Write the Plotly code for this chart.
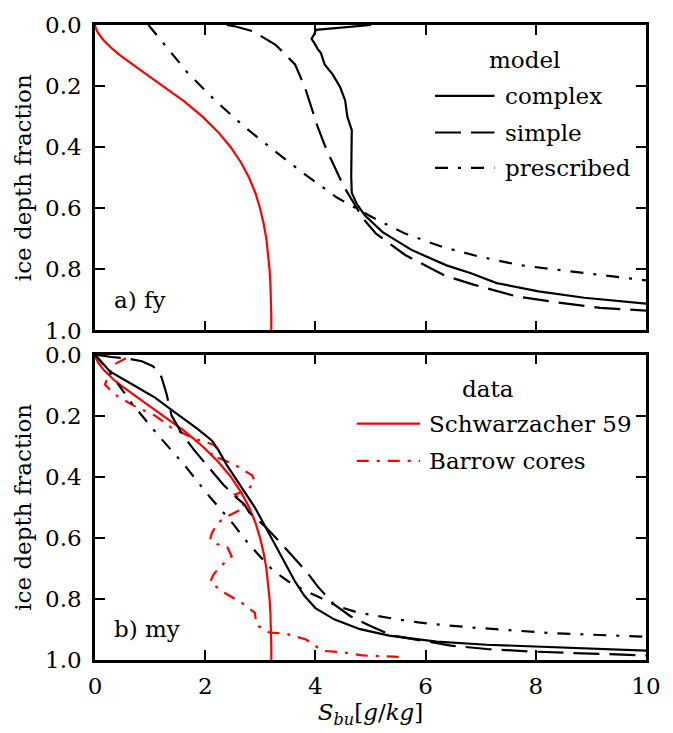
import plotly.graph_objects as go

# ---------------------------------------------------------------------------
# Bulk salinity profiles S_bu [g/kg] against fractional ice depth
# ---------------------------------------------------------------------------

# Schwarzacher (1959) reference profile (drawn in both panels)
schw_depth = [0.0, 0.01, 0.025, 0.05, 0.08, 0.10, 0.15, 0.20, 0.25, 0.30, 0.35,
              0.40, 0.45, 0.50, 0.55, 0.60, 0.65, 0.70, 0.75, 0.80, 0.85, 0.90,
              0.95, 1.0]
schw_sbu = [0.0, 0.013, 0.052, 0.155, 0.327, 0.463, 0.845, 1.244, 1.619, 1.951,
            2.232, 2.464, 2.649, 2.797, 2.911, 2.995, 3.060, 3.110, 3.143, 3.168,
            3.184, 3.194, 3.199, 3.2]

# a) first-year ice: model runs
fy_complex_depth = [0.0, 0.016, 0.030, 0.045, 0.062, 0.078, 0.092, 0.110, 0.130,
                    0.161, 0.204, 0.247, 0.30, 0.344, 0.42, 0.495, 0.549, 0.586,
                    0.624, 0.678, 0.737, 0.787, 0.812, 0.845, 0.872, 0.893,
                    0.912]
fy_complex_sbu = [5.01, 4.01, 3.98, 3.93, 3.99, 4.04, 4.10, 4.14, 4.17, 4.31,
                  4.45, 4.54, 4.58, 4.66, 4.65, 4.65, 4.66, 4.75, 4.90, 5.22,
                  5.75, 6.38, 6.81, 7.29, 8.05, 8.88, 10.0]

fy_simple_depth = [0.0, 0.005, 0.02, 0.064, 0.09, 0.129, 0.204, 0.269, 0.333,
                   0.403, 0.463, 0.527, 0.581, 0.635, 0.683, 0.753, 0.82, 0.85,
                   0.888, 0.909, 0.926, 0.935]
fy_simple_sbu = [2.39, 2.55, 2.86, 3.27, 3.42, 3.63, 3.81, 3.92, 4.04, 4.19,
                 4.34, 4.51, 4.69, 4.87, 5.10, 5.63, 6.34, 6.87, 7.64, 8.41,
                 9.17, 10.0]

fy_prescribed_depth = [0.0, 0.06, 0.156, 0.247, 0.333, 0.414, 0.489, 0.565,
                       0.60, 0.63, 0.683, 0.727, 0.759, 0.786, 0.802, 0.818,
                       0.832, 0.836]
fy_prescribed_sbu = [0.97, 1.24, 1.68, 2.18, 2.71, 3.27, 3.81, 4.39, 4.75, 5.04,
                     5.63, 6.31, 6.99, 7.70, 8.41, 9.12, 9.82, 10.0]

# b) multi-year ice: model runs
my_complex_depth = [0.0, 0.055, 0.098, 0.141, 0.189, 0.243, 0.281, 0.313, 0.361,
                    0.41, 0.453, 0.50, 0.55, 0.60, 0.668, 0.743, 0.790, 0.830,
                    0.867, 0.899, 0.92, 0.940, 0.950, 0.958, 0.969]
my_complex_sbu = [0.0, 0.27, 0.68, 1.09, 1.45, 1.86, 2.12, 2.24, 2.39, 2.57,
                  2.74, 2.90, 3.05, 3.20, 3.39, 3.63, 3.80, 4.00, 4.34, 4.81,
                  5.34, 6.20, 7.11, 8.29, 10.0]

my_simple_depth = [0.0, 0.008, 0.012, 0.022, 0.038, 0.055, 0.076, 0.13, 0.20,
                   0.254, 0.313, 0.372, 0.426, 0.469, 0.49, 0.517, 0.56, 0.609,
                   0.662, 0.711, 0.759, 0.818, 0.856, 0.888, 0.920, 0.953,
                   0.964, 0.972, 0.977, 0.982, 0.985]
my_simple_sbu = [0.0, 0.30, 0.56, 0.85, 1.05, 1.15, 1.21, 1.30, 1.39, 1.56,
                 1.80, 2.07, 2.33, 2.57, 2.71, 2.80, 3.07, 3.33, 3.60, 3.84,
                 4.04, 4.34, 4.63, 4.99, 5.40, 6.46, 7.11, 7.88, 8.64, 9.41,
                 10.0]

my_prescribed_depth = [0.0, 0.06, 0.162, 0.265, 0.361, 0.463, 0.555, 0.603,
                       0.652, 0.705, 0.743, 0.77, 0.797, 0.824, 0.845, 0.856,
                       0.867, 0.877, 0.883, 0.894, 0.904, 0.912, 0.917, 0.923,
                       0.924]
my_prescribed_sbu = [0.0, 0.27, 0.68, 1.15, 1.62, 2.07, 2.51, 2.71, 2.95, 3.22,
                     3.51, 3.78, 4.10, 4.40, 4.78, 5.10, 5.49, 5.87, 6.17, 6.87,
                     7.58, 8.29, 9.0, 9.73, 10.0]

# b) multi-year ice: Barrow core observations
barrow_depth = [0.012, 0.035, 0.098, 0.13, 0.168, 0.20, 0.24, 0.275, 0.295,
                0.31, 0.328, 0.345, 0.358, 0.377, 0.395, 0.415, 0.442, 0.458,
                0.480, 0.501, 0.525, 0.552, 0.585, 0.605, 0.62, 0.63, 0.66,
                0.695, 0.720, 0.745, 0.78, 0.815, 0.845, 0.870, 0.885, 0.91,
                0.913, 0.933, 0.97, 0.975, 0.985, 0.99]
barrow_sbu = [0.56, 0.32, 0.18, 0.35, 0.71, 1.09, 1.39, 1.80, 2.15, 2.24, 2.09,
              2.33, 2.51, 2.68, 2.85, 2.90, 2.78, 2.54, 2.66, 2.72, 2.45, 2.22,
              2.12, 2.09, 2.21, 2.40, 2.48, 2.27, 2.15, 2.09, 2.35, 2.68, 2.90,
              2.92, 2.93, 3.16, 3.45, 3.83, 4.13, 4.50, 4.85, 5.58]

x_ticks = [0, 2, 4, 6, 8, 10]
x_ticktext = ["0", "2", "4", "6", "8", "10"]
y_ticks = [0.0, 0.2, 0.4, 0.6, 0.8, 1.0]
y_ticktext = ["0.0", "0.2", "0.4", "0.6", "0.8", "1.0"]

model_labels = ["complex", "simple", "prescribed"]
data_labels = ["Schwarzacher 59", "Barrow cores"]

# ---------------------------------------------------------------------------
FONT = "DejaVu Serif"
FS = 23
RED = "#ff0000"
LW = 2.2
STYLE = {
    "complex": dict(color="black", width=LW, dash="solid"),
    "simple": dict(color="black", width=LW, dash="26px,10px"),
    "prescribed": dict(color="black", width=LW, dash="13px,10px,3px,10px"),
    "Schwarzacher 59": dict(color=RED, width=LW, dash="solid"),
    "Barrow cores": dict(color=RED, width=LW, dash="12px,8px,3px,8px"),
}

fig = go.Figure()


def add_line(sbu, depth, style_key, xa, ya):
    fig.add_trace(go.Scatter(
        x=sbu, y=depth, mode="lines", name=style_key,
        line=STYLE[style_key], xaxis=xa, yaxis=ya, showlegend=False,
        hoverinfo="skip"))


# panel a
add_line(schw_sbu, schw_depth, "Schwarzacher 59", "x", "y")
add_line(fy_complex_sbu, fy_complex_depth, "complex", "x", "y")
add_line(fy_simple_sbu, fy_simple_depth, "simple", "x", "y")
add_line(fy_prescribed_sbu, fy_prescribed_depth, "prescribed", "x", "y")

# panel b
add_line(schw_sbu, schw_depth, "Schwarzacher 59", "x2", "y2")
add_line(barrow_sbu, barrow_depth, "Barrow cores", "x2", "y2")
add_line(my_complex_sbu, my_complex_depth, "complex", "x2", "y2")
add_line(my_simple_sbu, my_simple_depth, "simple", "x2", "y2")
add_line(my_prescribed_sbu, my_prescribed_depth, "prescribed", "x2", "y2")

axis_common = dict(
    showline=True, linecolor="black", linewidth=2.5, mirror="ticks",
    ticks="inside", ticklen=10, tickwidth=1.5, tickcolor="black",
    showgrid=False, zeroline=False,
    tickfont=dict(family=FONT, size=FS, color="black"),
)

fig.update_layout(
    width=673, height=733,
    margin=dict(l=95, r=14, t=18, b=70),
    paper_bgcolor="white", plot_bgcolor="white",
    font=dict(family=FONT, size=FS, color="black"),
    xaxis=dict(axis_common, domain=[0, 1], anchor="y", range=[0, 10],
               tickvals=x_ticks, ticktext=x_ticktext, showticklabels=False),
    yaxis=dict(axis_common, domain=[0.519, 1.0], anchor="x", range=[1, 0],
               tickvals=y_ticks, ticktext=y_ticktext, ticklabelstandoff=6,
               title=dict(text="ice depth fraction", standoff=8,
                          font=dict(family=FONT, size=FS))),
    xaxis2=dict(axis_common, domain=[0, 1], anchor="y2", range=[0, 10],
                tickvals=x_ticks, ticktext=x_ticktext, ticklabelstandoff=4,
                title=dict(text="<i>S</i><sub><i>bu</i></sub>[<i>g</i>/<i>kg</i>]",
                           standoff=6, font=dict(family=FONT, size=FS))),
    yaxis2=dict(axis_common, domain=[0, 0.481], anchor="x2", range=[1, 0],
                tickvals=y_ticks, ticktext=y_ticktext, ticklabelstandoff=6,
                title=dict(text="ice depth fraction", standoff=8,
                           font=dict(family=FONT, size=FS))),
)

# panel tags
for text, xref, yref in [("a) fy", "x domain", "y domain"),
                         ("b) my", "x2 domain", "y2 domain")]:
    fig.add_annotation(text=text, xref=xref, yref=yref, x=0.03, y=0.1,
                       xanchor="left", yanchor="middle", showarrow=False,
                       font=dict(family=FONT, size=FS, color="black"))


def draw_legend(title, labels, xref, yref, title_x, title_y, x0, x1, xt, rows):
    fig.add_annotation(text=title, xref=xref, yref=yref, x=title_x, y=title_y,
                       xanchor="center", yanchor="middle", showarrow=False,
                       font=dict(family=FONT, size=FS, color="black"))
    for label, ry in zip(labels, rows):
        fig.add_shape(type="line", xref=xref, yref=yref, x0=x0, x1=x1,
                      y0=ry, y1=ry, line=STYLE[label])
        fig.add_annotation(text=label, xref=xref, yref=yref, x=xt, y=ry,
                           xanchor="left", yanchor="middle", showarrow=False,
                           font=dict(family=FONT, size=FS, color="black"))


draw_legend("model", model_labels, "x domain", "y domain",
            0.780, 0.886, 0.617, 0.725, 0.741, [0.768, 0.648, 0.532])
draw_legend("data", data_labels, "x2 domain", "y2 domain",
            0.713, 0.887, 0.475, 0.590, 0.603, [0.774, 0.652])

fig.write_html("out.html")
